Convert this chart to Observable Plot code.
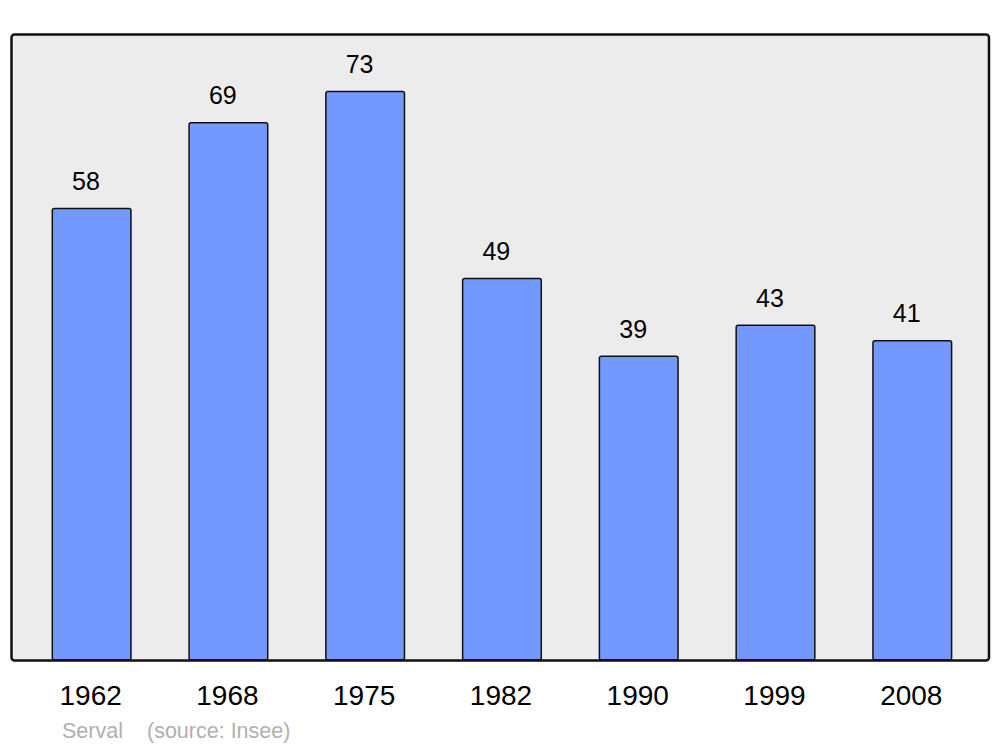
<!DOCTYPE html>
<html>
<head>
<meta charset="utf-8">
<script src="https://cdn.jsdelivr.net/npm/d3@7"></script>
<script src="https://cdn.jsdelivr.net/npm/@observablehq/plot@0.6"></script>
<style>
  html, body { margin: 0; padding: 0; background: #fff; }
  svg { display: block; }
</style>
</head>
<body>
<div id="chart"></div>
<script>
const years = ["1962", "1968", "1975", "1982", "1990", "1999", "2008"];
const population = [58, 69, 73, 49, 39, 43, 41];
const credit = "Serval";
const source = "(source: Insee)";

const data = years.map((y, i) => ({year: y, value: population[i]}));

const chart = Plot.plot({
  width: 1000,
  height: 747,
  marginTop: 34,
  marginBottom: 87,
  marginLeft: 11,
  marginRight: 11.5,
  style: {fontFamily: "'Liberation Sans', Arial, sans-serif", background: "#fff"},
  x: {type: "band", domain: years, range: [52.3, 951.6], paddingInner: 0.425, paddingOuter: 0, round: false, axis: null},
  y: {domain: [0, 80.4], axis: null},
  marks: [
    Plot.frame({fill: "#ececec", stroke: "none", rx: 3}),
    Plot.barY(data, {x: "year", y: "value", fill: "#7399ff", stroke: "#111", strokeWidth: 1.5, rx: 2}),
    Plot.frame({fill: "none", stroke: "#111", strokeWidth: 2.5, rx: 3}),
    Plot.text(data, {x: "year", y: "value", text: d => String(d.value), textAnchor: "start", dx: -20, dy: -19, lineAnchor: "bottom", fontSize: 25, fill: "#000"}),
    Plot.axisX({tickSize: 0, tickPadding: 24.5, fontSize: 28, dx: -1.5, fill: "#000", label: null}),
    Plot.text([credit], {frameAnchor: "bottom-left", text: d => d, textAnchor: "start", lineAnchor: "bottom", dx: 50.5, dy: 77, fontSize: 21.5, fill: "#b0b0b0"}),
    Plot.text([source], {frameAnchor: "bottom-left", text: d => d, textAnchor: "start", lineAnchor: "bottom", dx: 135.5, dy: 77, fontSize: 21.5, fill: "#b0b0b0"})
  ]
});
document.getElementById("chart").appendChild(chart);
</script>
</body>
</html>
